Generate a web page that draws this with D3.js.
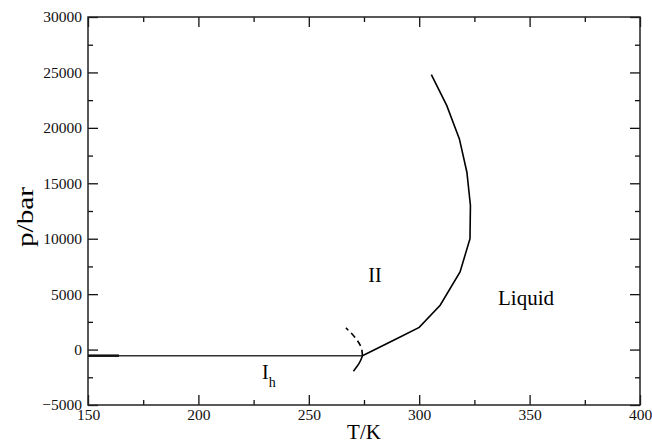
<!DOCTYPE html>
<html lang="en">
<head>
  <meta charset="utf-8">
  <title>Phase diagram</title>
  <script src="https://d3js.org/d3.v7.min.js"></script>
  <style>
  body { margin: 0; background: #fff; }
  text { font-family: "Liberation Serif", "Times New Roman", serif; }
  </style>
</head>
<body>
<script>
// melting line (liquid boundary), T in K, p in bar
var meltT = [274.3, 290, 300, 309.5, 318.5, 323, 323.2, 321.6, 318.2, 312.5, 305.5];
var meltP = [-550, 1000, 2000, 4000, 7000, 10000, 13000, 16000, 19000, 22000, 24800];
// Ih / II boundary, solid part below the triple point
var ihSolidT = [270.2, 272.9, 274.3];
var ihSolidP = [-1950, -1200, -550];
// metastable dashed continuation
var ihDashT = [274.3, 273.7, 271.7, 269.4, 266.8];
var ihDashP = [-550, 200, 900, 1450, 1950];
// horizontal line at negative pressure
var flatT = [150, 274.3];
var flatP = [-550, -550];
var flatThickT = [150, 164];

var xTicks = [150, 200, 250, 300, 350, 400];
var xMinor = [175, 225, 275, 325, 375];
var yTicks = [-5000, 0, 5000, 10000, 15000, 20000, 25000, 30000];
var yMinor = [-2500, 2500, 7500, 12500, 17500, 22500, 27500];

var W = 652, H = 445;
var m = {left: 88, right: 12, top: 17, bottom: 40};

var svg = d3.select('body').append('svg')
  .attr('width', W).attr('height', H);

var x = d3.scaleLinear().domain([150, 400]).range([m.left, W - m.right]);
var y = d3.scaleLinear().domain([-5000, 30000]).range([H - m.bottom, m.top]);

function pts(ts, ps) {
  return ts.map(function(t, i) { return [t, ps[i]]; });
}
var line = d3.line().x(function(d) { return x(d[0]); }).y(function(d) { return y(d[1]); });
var arc = d3.line().curve(d3.curveNatural)
  .x(function(d) { return x(d[0]); }).y(function(d) { return y(d[1]); });

// axes, ticks pointing inward on all four sides
function styleAxis(g) {
  g.select('.domain').remove();
  g.selectAll('line').attr('stroke', '#111').attr('stroke-width', 1.3);
  g.selectAll('text').attr('font-size', 15.5).attr('fill', '#111');
}
svg.append('g').attr('transform', 'translate(0,' + y(-5000) + ')')
  .call(d3.axisBottom(x).tickValues(xTicks).tickSize(-10).tickPadding(4).tickFormat(d3.format('d')))
  .call(styleAxis);
svg.append('g').attr('transform', 'translate(0,' + y(-5000) + ')')
  .call(d3.axisBottom(x).tickValues(xMinor).tickSize(-5).tickFormat(''))
  .call(styleAxis);
svg.append('g').attr('transform', 'translate(0,' + y(30000) + ')')
  .call(d3.axisTop(x).tickValues(xTicks).tickSize(-10).tickFormat(''))
  .call(styleAxis);
svg.append('g').attr('transform', 'translate(0,' + y(30000) + ')')
  .call(d3.axisTop(x).tickValues(xMinor).tickSize(-5).tickFormat(''))
  .call(styleAxis);
svg.append('g').attr('transform', 'translate(' + x(150) + ',0)')
  .call(d3.axisLeft(y).tickValues(yTicks).tickSize(-10).tickPadding(6).tickFormat(d3.format('d')))
  .call(styleAxis);
svg.append('g').attr('transform', 'translate(' + x(150) + ',0)')
  .call(d3.axisLeft(y).tickValues(yMinor).tickSize(-5).tickFormat(''))
  .call(styleAxis);
svg.append('g').attr('transform', 'translate(' + x(400) + ',0)')
  .call(d3.axisRight(y).tickValues(yTicks).tickSize(-10).tickFormat(''))
  .call(styleAxis);
svg.append('g').attr('transform', 'translate(' + x(400) + ',0)')
  .call(d3.axisRight(y).tickValues(yMinor).tickSize(-5).tickFormat(''))
  .call(styleAxis);

svg.append('rect')
  .attr('x', x(150)).attr('y', y(30000))
  .attr('width', x(400) - x(150)).attr('height', y(-5000) - y(30000))
  .attr('fill', 'none').attr('stroke', '#222').attr('stroke-width', 1.5);

// curves
svg.append('path').attr('d', line(pts(flatT, flatP)))
  .attr('fill', 'none').attr('stroke', '#333').attr('stroke-width', 1.5);
svg.append('path').attr('d', line(pts(flatThickT, [flatP[0], flatP[0]])))
  .attr('fill', 'none').attr('stroke', '#111').attr('stroke-width', 2.5);
svg.append('path').attr('d', line(pts(meltT, meltP)))
  .attr('fill', 'none').attr('stroke', '#000').attr('stroke-width', 1.6);
svg.append('path').attr('d', arc(pts(ihSolidT, ihSolidP)))
  .attr('fill', 'none').attr('stroke', '#000').attr('stroke-width', 1.6);
svg.append('path').attr('d', arc(pts(ihDashT, ihDashP)))
  .attr('fill', 'none').attr('stroke', '#000').attr('stroke-width', 1.6)
  .attr('stroke-dasharray', '6,4');

// phase labels
svg.append('text').attr('x', 375).attr('y', 282).attr('text-anchor', 'middle')
  .attr('font-size', 20).text('II');
svg.append('text').attr('x', 526).attr('y', 305).attr('text-anchor', 'middle')
  .attr('font-size', 21).text('Liquid');
var ih = svg.append('text').attr('x', 262).attr('y', 379).attr('font-size', 20);
ih.append('tspan').text('I');
ih.append('tspan').attr('font-size', 14).attr('dy', 8).text('h');

// axis titles
svg.append('text').attr('x', 364).attr('y', 439).attr('text-anchor', 'middle')
  .attr('font-size', 21).text('T/K');
svg.append('text')
  .attr('transform', 'translate(33,217) rotate(-90)')
  .attr('text-anchor', 'middle').attr('font-size', 24)
  .attr('textLength', 60).attr('lengthAdjust', 'spacingAndGlyphs')
  .text('p/bar');
</script>
</body>
</html>
